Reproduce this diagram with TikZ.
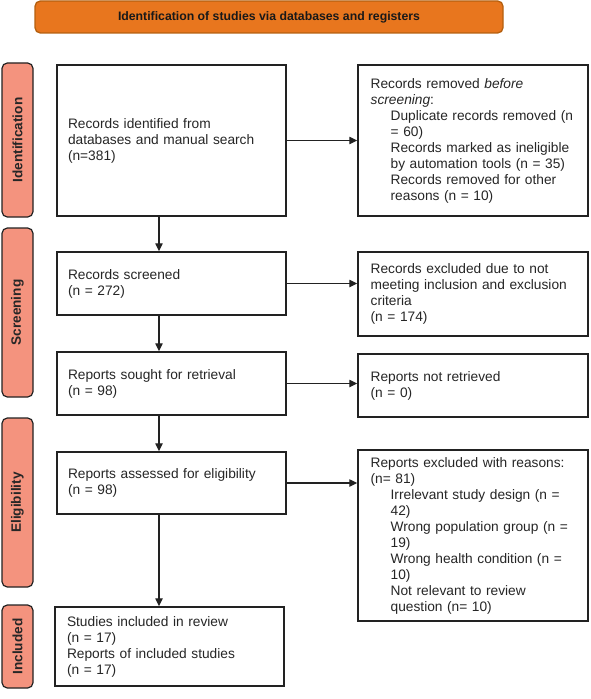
\documentclass[tikz,border=0pt]{standalone}
\usepackage{fontspec}
\setmainfont{Liberation Sans}
\usepackage{xcolor}
\definecolor{bannerorange}{HTML}{E8761E}
\definecolor{bannerline}{HTML}{B5600F}
\definecolor{phasesalmon}{HTML}{F4937E}
\definecolor{boxline}{HTML}{222222}
\usepackage{tikz}
\usetikzlibrary{arrows.meta,positioning,calc}
\newcommand{\boxfont}{\fontsize{10.3}{12}\selectfont}
\newcommand{\ind}{\hspace*{15pt}}

\begin{document}
\begin{tikzpicture}[x=0.75pt, y=-0.75pt,
      banner/.style={draw=bannerline, line width=1pt, rounded corners=4pt, fill=bannerorange, font=\fontsize{9.2}{11}\selectfont\bfseries, text=black!90, minimum width=351pt, minimum height=24pt},
      phase/.style={draw=boxline, line width=0.9pt, rounded corners=4pt, fill=phasesalmon, rotate=90, font=\fontsize{10.2}{12}\selectfont\bfseries, text=black!85, minimum height=23.25pt, inner sep=0pt},
      leftbox/.style={draw=boxline, line width=1.1pt, fill=white, align=left, font=\boxfont, text=black!85, inner xsep=8.25pt, text width=155.25pt, minimum width=171.75pt},
      rightbox/.style={draw=boxline, line width=1.1pt, fill=white, align=left, font=\boxfont, text=black!85, inner xsep=9.5pt, text width=153.5pt, minimum width=172.5pt},
      arr/.style={-{Triangle[length=6pt,width=5.5pt]}, line width=1pt, draw=boxline}
    ]
    \useasboundingbox (0,0) rectangle (590,699);
    \node[banner] (title) at (269,17) {Identification of studies via databases and registers};
    % phases
    \node[phase, minimum width=115.5pt] (pident) at (17.5,140) {Identification};
    \node[phase, minimum width=126.75pt] (pscreen) at (17.5,312.5) {Screening};
    \node[phase, minimum width=126.75pt] (pelig) at (17.5,502.5) {Eligibility};
    \node[phase, minimum width=62.25pt] (pincl) at (17.5,646.5) {Included};
    % main flow
    \node[leftbox, minimum height=113.25pt] (ident) at (171.5,140.5) {Records identified from\\databases and manual search\\(n=381)};
    \node[leftbox, minimum height=47.25pt] (screen) at (171.5,283.5) {Records screened\\(n = 272)};
    \node[leftbox, minimum height=47.25pt] (sought) at (171.5,383.5) {Reports sought for retrieval\\(n = 98)};
    \node[leftbox, minimum height=46.5pt] (assessed) at (171.5,483) {Reports assessed for eligibility\\(n = 98)};
    \node[leftbox, minimum height=59.25pt, inner xsep=9pt, text width=153.75pt] (incl) at (169.5,646.5) {Studies included in review\\(n = 17)\\Reports of included studies\\(n = 17)};
    % exclusions
    \node[rightbox, minimum height=113.25pt] (removed) at (473,140.5) {Records removed \textit{before}\\\textit{screening}:\\\ind Duplicate records removed (n\\\ind = 60)\\\ind Records marked as ineligible\\\ind by automation tools (n = 35)\\\ind Records removed for other\\\ind reasons (n = 10)};
    \node[rightbox, minimum height=63pt] (excluded) at (473,294) {Records excluded due to not\\meeting inclusion and exclusion\\criteria\\(n = 174)};
    \node[rightbox, minimum height=47.25pt] (notret) at (473,385.5) {Reports not retrieved\\(n = 0)};
    \node[rightbox, minimum height=128.25pt] (exclreas) at (473,535.5) {Reports excluded with reasons:\\(n= 81)\\\ind Irrelevant study design (n =\\\ind 42)\\\ind Wrong population group (n =\\\ind 19)\\\ind Wrong health condition (n =\\\ind 10)\\\ind Not relevant to review\\\ind question (n= 10)};
    \coordinate (spine) at (159,0);
    \draw[arr] (ident.south -| spine) -- (screen.north -| spine);
    \draw[arr] (screen.south -| spine) -- (sought.north -| spine);
    \draw[arr] (sought.south -| spine) -- (assessed.north -| spine);
    \draw[arr] (assessed.south -| spine) -- (incl.north -| spine);
    \draw[arr] (ident.east) -- (ident.east -| removed.west);
    \draw[arr] (screen.east) -- (screen.east -| excluded.west);
    \draw[arr] (sought.east) -- (sought.east -| notret.west);
    \draw[arr] (assessed.east) -- (assessed.east -| exclreas.west);
\end{tikzpicture}
\end{document}
